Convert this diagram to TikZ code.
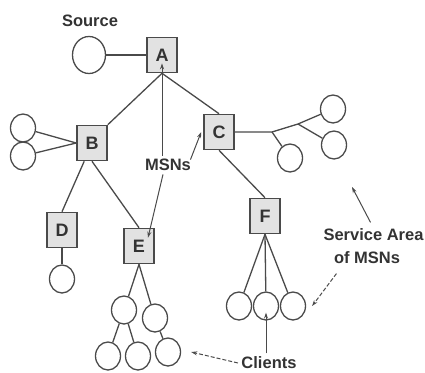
\documentclass[tikz,border=0pt]{standalone}
\usepackage{fontspec}
\setmainfont{Liberation Sans}
\usetikzlibrary{shapes.geometric,arrows.meta}
\definecolor{ln}{HTML}{4A4A4A}
\definecolor{bx}{HTML}{E2E2E2}
\begin{document}
\begin{tikzpicture}[x=1pt,y=-1pt,
  msn/.style={draw=ln,line width=1.6pt,fill=bx,minimum width=30pt,minimum height=35pt,inner sep=0pt,font=\fontsize{18}{18}\selectfont\bfseries,text=black!80},
  cl/.style={ellipse,draw=ln,line width=1.3pt,minimum width=25pt,minimum height=28pt,inner sep=0pt},
  big/.style={cl,minimum width=33pt,minimum height=37pt},
  lab/.style={font=\fontsize{16.5}{19}\selectfont\bfseries,text=black!80},
  edge/.style={draw=ln,line width=1.3pt},
  arr/.style={draw=ln,line width=1pt,-{Stealth[length=6pt,width=4pt]}},
  darr/.style={arr,dashed,dash pattern=on 4pt off 2pt}]
\useasboundingbox (0,0) rectangle (425,372);
% nodes
\node[big] (src) at (89,55) {};
\node[msn] (A) at (162,55) {A};
\node[msn] (B) at (92,143) {B};
\node[msn] (C) at (219,132) {C};
\node[msn] (D) at (62,230) {D};
\node[msn] (E) at (139,246) {E};
\node[msn] (F) at (265,216) {F};
\node[cl] (b1) at (23,128) {};
\node[cl] (b2) at (23,156) {};
\node[cl] (c1) at (333,109) {};
\node[cl] (c2) at (334,145) {};
\node[cl] (c3) at (290,158) {};
\coordinate (j1) at (272,132);
\coordinate (j2) at (298,124);
\node[cl] (d1) at (62,279) {};
\node[cl] (e1) at (124,310) {};
\node[cl] (e2) at (155,318) {};
\node[cl] (e3) at (108,356) {};
\node[cl] (e4) at (138,356) {};
\node[cl] (e5) at (168,352) {};
\node[cl] (f1) at (239,306) {};
\node[cl] (f2) at (266,306) {};
\node[cl] (f3) at (293,306) {};
% labels
\node[lab] (source) at (90,21) {Source};
\node[lab] (msns) at (168,165) {MSNs};
\node[lab,anchor=west] (sa) at (320,235) {Service Area};
\node[lab] (of) at (367,258) {of MSNs};
\node[lab] (clients) at (269,363) {Clients};
% edges
\draw[edge] (src) -- (A);
\draw[edge] (A.south) -- (B.north east);
\draw[edge] (A.south) -- (C.north);
\draw[edge] (B.west) -- (b1);
\draw[edge] (B.west) -- (b2);
\draw[edge] (B.south west) ++(8,0) coordinate (bsl) (bsl) -- (D.north);
\draw[edge] (B.south) -- (E.north);
\draw[edge] (C.south) -- (F.north);
\draw[edge] (C.east) -- (j1) -- (j2) -- (c1);
\draw[edge] (j1) -- (c3);
\draw[edge] (j2) -- (c2);
\draw[edge] (D) -- (d1);
\draw[edge] (E.south) -- (e1);
\draw[edge] (E.south) -- (e2);
\draw[edge] (e1) -- (e3);
\draw[edge] (e1) -- (e4);
\draw[edge] (e2) -- (e5);
\draw[edge] (F.south) -- (f1);
\draw[edge] (F.south) -- (f2);
\draw[edge] (F.south) -- (f3);
% arrows
\draw[arr] (msns.north -| A.south) -- ([yshift=10pt]A.south);
\draw[arr] (msns.north east) ++(-4,4) coordinate (m1) (m1) -- ([xshift=-2pt]C.west);
\draw[arr] (msns.south) ++(-5,0) coordinate (m2) (m2) -- ([xshift=9pt,yshift=-10pt]E.north);
\coordinate (saTop) at (352,187);
\draw[arr] (sa.north) ++(-3,-3) coordinate (s1) (s1) -- (saTop);
\draw[darr] (of.south west) ++(6,6) coordinate (o1) (o1) -- ([xshift=6pt]f3.east);
\draw[arr] (clients.north -| f2.south) -- ([yshift=8pt]f2.south);
\draw[darr] (clients.west) -- ([xshift=10pt]e5.east);
\end{tikzpicture}
\end{document}
